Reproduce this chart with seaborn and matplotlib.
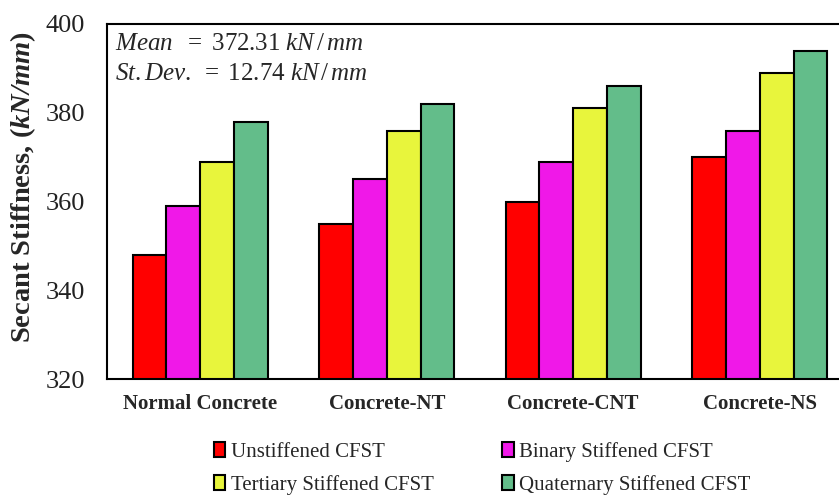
import matplotlib
matplotlib.use("Agg")
import matplotlib.pyplot as plt
import seaborn as sns
import pandas as pd
from matplotlib.patches import Patch

categories = ["Normal Concrete", "Concrete-NT", "Concrete-CNT", "Concrete-NS"]
series = ["Unstiffened CFST", "Binary Stiffened CFST", "Tertiary Stiffened CFST", "Quaternary Stiffened CFST"]
unstiffened = [348, 355, 360, 370]
binary = [359, 365, 369, 376]
tertiary = [369, 376, 381, 389]
quaternary = [378, 382, 386, 394]
colors = ["#FF0000", "#F018E8", "#E8F53C", "#63BD8A"]

rows = []
for s, vals in zip(series, [unstiffened, binary, tertiary, quaternary]):
    for c, v in zip(categories, vals):
        rows.append({"Category": c, "Series": s, "Value": v})
df = pd.DataFrame(rows)

sns.set_style("white")
plt.rcParams["font.family"] = ["Liberation Serif", "DejaVu Serif"]
plt.rcParams["mathtext.fontset"] = "custom"
plt.rcParams["mathtext.bf"] = "Liberation Serif:bold:italic"
plt.rcParams["mathtext.it"] = "Liberation Serif:italic"
plt.rcParams["mathtext.rm"] = "Liberation Serif"

fig = plt.figure(figsize=(8.39, 4.96), dpi=100)
ax = fig.add_axes([107/839, 1-379/496, 746/839, 355/496])

sns.barplot(data=df, x="Category", y="Value", hue="Series", order=categories,
            hue_order=series, palette=colors, width=0.725, edgecolor="black",
            linewidth=1.5, saturation=1, ax=ax, legend=False)

ax.set_xlim(-0.5, 3.5)
ax.set_ylim(320, 400)
ax.set_yticks([320, 340, 360, 380, 400])
ax.tick_params(axis="y", length=0, pad=16, labelsize=19, labelcolor="#222222")
ax.tick_params(axis="x", which="major", length=0, pad=11)
ax.set_xticks([0.5, 1.5, 2.5], minor=True)
ax.tick_params(axis="x", which="minor", length=5, width=1.5, direction="out", color="black")
for lab in ax.get_xticklabels():
    lab.set_fontweight("bold")
    lab.set_fontsize(15)
ax.set_xlabel("")
ax.set_ylabel(r"Secant Stiffness, ($\mathbf{kN/mm}$)", fontsize=20.5, fontweight="bold")
ax.yaxis.set_label_coords(-0.093, 0.54)
for sp in ax.spines.values():
    sp.set_color("black")
    sp.set_linewidth(1.5)

line1 = r"$Mean\ \ =\ 372.31\ kN\,/\,mm$"
line2 = r"$St.Dev.\ =\ 12.74\ kN\,/\,mm$"
ax.text(0.011, 0.975, line1 + "\n" + line2,
        transform=ax.transAxes, ha="left", va="top", fontsize=18, linespacing=1.5)

order = [0, 2, 1, 3]
handles = [Patch(facecolor=colors[i], edgecolor="black", linewidth=1.5) for i in order]
labels = [series[i] for i in order]
fig.legend(handles, labels, loc="upper left", bbox_to_anchor=(214/839, 1-442/496), ncol=2,
           frameon=False, fontsize=15, handlelength=0.55, handleheight=0.75, handletextpad=0.25,
           columnspacing=3.3, labelspacing=0.62, borderaxespad=0, borderpad=0)

fig.savefig("out.png", dpi=100)
